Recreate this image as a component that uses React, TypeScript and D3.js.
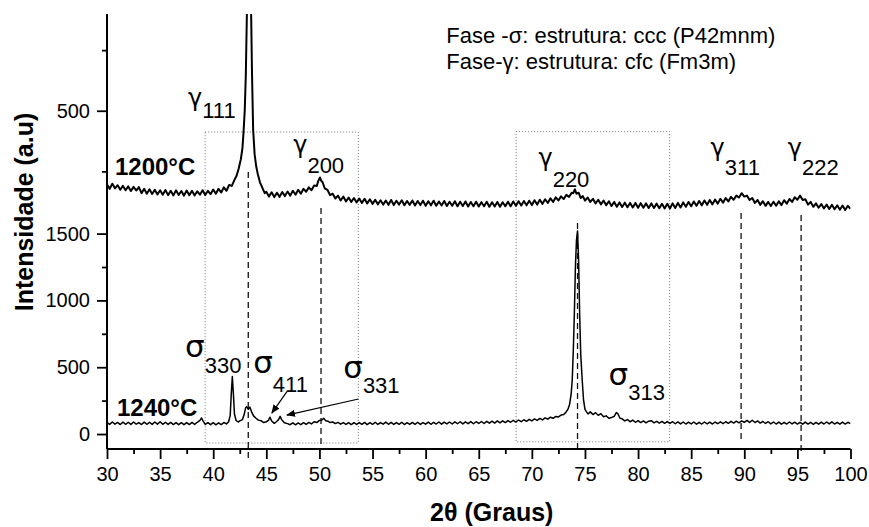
import React, { useEffect, useRef } from 'react';
import * as d3 from 'd3';

// 2θ ticks
const xMajor = [30, 35, 40, 45, 50, 55, 60, 65, 70, 75, 80, 85, 90, 95, 100];
const xMinor = [32.5, 37.5, 42.5, 47.5, 52.5, 57.5, 62.5, 67.5, 72.5, 77.5, 82.5, 87.5, 92.5, 97.5];
const lowMajor = [0, 500, 1000, 1500];
const lowMinor = [250, 750, 1250];
const upMajor = [500];
const upMinor = [250, 750];

// 1200°C pattern (upper panel units) [2θ, I]
const curve1200 = [
  [30.0, 196], [30.25, 178], [30.5, 199], [30.75, 180], [31.0, 193], [31.25, 174], [31.5, 190], [31.75, 172],
  [32.0, 188], [32.25, 169], [32.5, 186], [32.75, 171], [33.0, 185], [33.25, 160], [33.5, 178], [33.75, 158],
  [34.0, 176], [34.25, 157], [34.5, 174], [34.75, 155], [35.0, 172], [35.25, 154], [35.5, 173], [35.75, 152],
  [36.0, 170], [36.25, 151], [36.5, 172], [36.75, 153], [37.0, 169], [37.25, 150], [37.5, 171], [37.75, 152],
  [38.0, 170], [38.25, 151], [38.5, 168], [38.75, 154], [39.0, 172], [39.25, 153], [39.5, 170], [39.75, 156],
  [40.0, 175], [40.25, 158], [40.5, 178], [40.75, 163], [41.0, 184], [41.25, 170], [41.5, 194], [41.75, 190],
  [42.0, 215], [42.2, 232], [42.4, 262], [42.6, 300], [42.75, 345], [42.85, 408], [42.97, 503], [43.07, 650],
  [43.17, 900], [43.3, 1500], [43.4, 1650], [43.5, 1250], [43.57, 900], [43.65, 660], [43.76, 420], [43.9, 320],
  [44.05, 270], [44.2, 238], [44.4, 205], [44.6, 185], [44.85, 160], [45.0, 166], [45.25, 146], [45.5, 164],
  [45.75, 144], [46.0, 162], [46.25, 145], [46.5, 165], [46.75, 148], [47.0, 167], [47.25, 150], [47.5, 170],
  [47.75, 154], [48.0, 174], [48.25, 158], [48.5, 178], [48.75, 166], [49.0, 184], [49.25, 172], [49.5, 192],
  [49.75, 190], [49.9, 212], [50.05, 225], [50.15, 212], [50.3, 205], [50.5, 180], [50.75, 174], [51.0, 152],
  [51.25, 158], [51.5, 138], [51.75, 150], [52.0, 130], [52.25, 146], [52.5, 126], [52.75, 142], [53.0, 124],
  [53.25, 140], [53.5, 122], [53.75, 138], [54.0, 120], [54.25, 137], [54.5, 118], [54.75, 135], [55.0, 116],
  [55.25, 133], [55.5, 114], [55.75, 131], [56.0, 113], [56.25, 130], [56.5, 112], [56.75, 132], [57.0, 111],
  [57.25, 129], [57.5, 113], [57.75, 131], [58.0, 110], [58.25, 128], [58.5, 112], [58.75, 130], [59.0, 109],
  [59.25, 128], [59.5, 111], [59.75, 129], [60.0, 108], [60.25, 127], [60.5, 110], [60.75, 129], [61.0, 108],
  [61.25, 126], [61.5, 109], [61.75, 128], [62.0, 107], [62.25, 125], [62.5, 108], [62.75, 127], [63.0, 106],
  [63.25, 125], [63.5, 107], [63.75, 126], [64.0, 105], [64.25, 124], [64.5, 106], [64.75, 125], [65.0, 105],
  [65.25, 123], [65.5, 106], [65.75, 125], [66.0, 104], [66.25, 123], [66.5, 105], [66.75, 124], [67.0, 104],
  [67.25, 123], [67.5, 106], [67.75, 125], [68.0, 106], [68.25, 126], [68.5, 108], [68.75, 127], [69.0, 109],
  [69.25, 128], [69.5, 110], [69.75, 129], [70.0, 111], [70.25, 131], [70.5, 113], [70.75, 133], [71.0, 116],
  [71.25, 135], [71.5, 120], [71.75, 139], [72.0, 124], [72.25, 143], [72.5, 130], [72.75, 147], [73.0, 136],
  [73.25, 153], [73.5, 145], [73.75, 162], [73.9, 160], [74.05, 176], [74.2, 158], [74.4, 162], [74.6, 140],
  [74.8, 148], [75.0, 130], [75.25, 142], [75.5, 124], [75.75, 137], [76.0, 118], [76.25, 133], [76.5, 114],
  [76.75, 130], [77.0, 110], [77.25, 127], [77.5, 107], [77.75, 124], [78.0, 104], [78.25, 122], [78.5, 103],
  [78.75, 121], [79.0, 102], [79.25, 120], [79.5, 101], [79.75, 120], [80.0, 100], [80.25, 119], [80.5, 100],
  [80.75, 118], [81.0, 99], [81.25, 118], [81.5, 99], [81.75, 117], [82.0, 98], [82.25, 116], [82.5, 97],
  [82.75, 116], [83.0, 97], [83.25, 118], [83.5, 99], [83.75, 120], [84.0, 101], [84.25, 122], [84.5, 104],
  [84.75, 124], [85.0, 106], [85.25, 126], [85.5, 108], [85.75, 128], [86.0, 110], [86.25, 130], [86.5, 112],
  [86.75, 132], [87.0, 114], [87.25, 134], [87.5, 117], [87.75, 137], [88.0, 121], [88.25, 140], [88.5, 126],
  [88.75, 145], [89.0, 133], [89.25, 150], [89.5, 142], [89.75, 160], [90.0, 146], [90.25, 150], [90.5, 132],
  [90.75, 140], [91.0, 120], [91.25, 132], [91.5, 112], [91.75, 127], [92.0, 108], [92.25, 124], [92.5, 107],
  [92.75, 125], [93.0, 108], [93.25, 127], [93.5, 111], [93.75, 131], [94.0, 117], [94.25, 136], [94.5, 124],
  [94.75, 143], [95.0, 133], [95.25, 150], [95.5, 132], [95.75, 135], [96.0, 113], [96.25, 124], [96.5, 104],
  [96.75, 118], [97.0, 100], [97.25, 115], [97.5, 97], [97.75, 113], [98.0, 95], [98.25, 112], [98.5, 94],
  [98.75, 110], [99.0, 92], [99.25, 109], [99.5, 91], [99.75, 108], [100.0, 96],
];

// 1240°C pattern (lower panel units) [2θ, I]
const curve1240 = [
  [30.0, 88], [30.25, 72], [30.5, 90], [30.75, 74], [31.0, 87], [31.25, 71], [31.5, 89], [31.75, 73],
  [32.0, 88], [32.25, 72], [32.5, 90], [32.75, 74], [33.0, 86], [33.25, 71], [33.5, 89], [33.75, 73],
  [34.0, 88], [34.25, 72], [34.5, 90], [34.75, 74], [35.0, 92], [35.25, 73], [35.5, 88], [35.75, 72],
  [36.0, 87], [36.25, 71], [36.5, 86], [36.75, 70], [37.0, 85], [37.25, 70], [37.5, 86], [37.75, 71],
  [38.0, 87], [38.25, 72], [38.5, 88], [38.75, 102], [38.9, 120], [39.05, 96], [39.25, 72], [39.5, 86],
  [39.75, 70], [40.0, 85], [40.25, 69], [40.5, 84], [40.75, 71], [41.0, 86], [41.25, 76], [41.45, 92],
  [41.6, 140], [41.7, 300], [41.8, 430], [41.9, 300], [42.0, 150], [42.15, 102], [42.35, 90], [42.55, 100],
  [42.75, 108], [42.9, 142], [43.05, 196], [43.15, 206], [43.3, 184], [43.45, 202], [43.6, 168], [43.8, 136],
  [44.0, 120], [44.25, 104], [44.5, 100], [44.75, 86], [45.0, 92], [45.2, 102], [45.35, 126], [45.5, 98],
  [45.75, 80], [45.95, 92], [46.15, 108], [46.3, 132], [46.45, 106], [46.7, 84], [47.0, 78], [47.25, 70],
  [47.5, 84], [47.75, 69], [48.0, 83], [48.25, 70], [48.5, 85], [48.75, 72], [49.0, 87], [49.25, 76],
  [49.5, 92], [49.75, 86], [50.0, 102], [50.25, 106], [50.4, 118], [50.6, 100], [50.8, 96], [51.0, 86],
  [51.25, 90], [51.5, 78], [51.75, 87], [52.0, 74], [52.25, 86], [52.5, 72], [52.75, 85], [53.0, 71],
  [53.25, 85], [53.5, 72], [53.75, 86], [54.0, 73], [54.25, 87], [54.5, 71], [54.75, 85], [55.0, 73],
  [55.25, 88], [55.5, 72], [55.75, 86], [56.0, 74], [56.25, 89], [56.5, 73], [56.75, 87], [57.0, 72],
  [57.25, 86], [57.5, 73], [57.75, 88], [58.0, 71], [58.25, 85], [58.5, 72], [58.75, 87], [59.0, 73],
  [59.25, 88], [59.5, 72], [59.75, 86], [60.0, 74], [60.25, 89], [60.5, 73], [60.75, 88], [61.0, 75],
  [61.25, 90], [61.5, 74], [61.75, 89], [62.0, 76], [62.25, 90], [62.5, 75], [62.75, 91], [63.0, 77],
  [63.25, 92], [63.5, 76], [63.75, 91], [64.0, 78], [64.25, 93], [64.5, 77], [64.75, 92], [65.0, 79],
  [65.25, 94], [65.5, 79], [65.75, 95], [66.0, 81], [66.25, 96], [66.5, 82], [66.75, 98], [67.0, 84],
  [67.25, 99], [67.5, 86], [67.75, 101], [68.0, 88], [68.25, 103], [68.5, 90], [68.75, 105], [69.0, 92],
  [69.25, 107], [69.5, 95], [69.75, 110], [70.0, 98], [70.25, 113], [70.5, 102], [70.75, 117], [71.0, 106],
  [71.25, 121], [71.5, 111], [71.75, 126], [72.0, 118], [72.25, 132], [72.5, 128], [72.75, 142], [73.0, 146],
  [73.2, 162], [73.4, 186], [73.55, 222], [73.7, 300], [73.8, 404], [73.9, 620], [74.0, 900], [74.1, 1250],
  [74.2, 1450], [74.3, 1520], [74.4, 1300], [74.5, 900], [74.6, 600], [74.74, 404], [74.86, 260], [75.0, 185],
  [75.15, 166], [75.3, 150], [75.5, 166], [75.75, 146], [76.0, 160], [76.25, 140], [76.5, 152], [76.75, 130],
  [77.0, 136], [77.25, 118], [77.5, 124], [77.75, 132], [77.95, 160], [78.1, 152], [78.3, 118], [78.5, 114],
  [78.75, 98], [79.0, 108], [79.25, 92], [79.5, 104], [79.75, 88], [80.0, 100], [80.25, 86], [80.5, 98],
  [80.75, 84], [81.0, 96], [81.25, 100], [81.5, 84], [81.75, 95], [82.0, 82], [82.25, 94], [82.5, 80],
  [82.75, 93], [83.0, 79], [83.25, 92], [83.5, 77], [83.75, 91], [84.0, 76], [84.25, 90], [84.5, 75],
  [84.75, 89], [85.0, 76], [85.25, 90], [85.5, 74], [85.75, 88], [86.0, 75], [86.25, 90], [86.5, 76],
  [86.75, 89], [87.0, 75], [87.25, 90], [87.5, 77], [87.75, 91], [88.0, 78], [88.25, 92], [88.5, 80],
  [88.75, 94], [89.0, 82], [89.25, 96], [89.5, 84], [89.75, 98], [90.0, 88], [90.25, 102], [90.5, 87],
  [90.75, 103], [91.0, 86], [91.25, 98], [91.5, 82], [91.75, 94], [92.0, 79], [92.25, 92], [92.5, 76],
  [92.75, 90], [93.0, 75], [93.25, 89], [93.5, 74], [93.75, 88], [94.0, 75], [94.25, 90], [94.5, 76],
  [94.75, 89], [95.0, 75], [95.25, 88], [95.5, 74], [95.75, 89], [96.0, 75], [96.25, 88], [96.5, 73],
  [96.75, 87], [97.0, 74], [97.25, 89], [97.5, 75], [97.75, 90], [98.0, 76], [98.25, 91], [98.5, 75],
  [98.75, 88], [99.0, 74], [99.25, 89], [99.5, 75], [99.75, 88], [100.0, 78],
];

// dashed reference lines: 2θ, top end (upper units), bottom end (lower units)
const refLines = [
  { x: 43.3, top: 247, bottom: -187 },
  { x: 50.15, top: 99, bottom: -97 },
  { x: 74.3, top: 37, bottom: -118 },
  { x: 89.7, top: 78, bottom: -67 },
  { x: 95.35, top: 70, bottom: -135 },
];

// dotted boxes
const boxes = [
  { x0: 39.24, x1: 53.66, top: 412, bottom: -67 },
  { x0: 68.52, x1: 82.97, top: 414, bottom: -58 },
];

// gamma labels (upper panel): x = start, g = greek baseline, s = index baseline
const gammaLabels = [
  { hkl: '111', x: 37.63, g: 521, s: 470 },
  { hkl: '200', x: 47.53, g: 327, s: 243 },
  { hkl: '220', x: 70.62, g: 274, s: 186 },
  { hkl: '311', x: 86.83, g: 315, s: 235 },
  { hkl: '222', x: 94.09, g: 313, s: 235 },
];

// sigma labels (lower panel)
const sigmaLabels = [
  { hkl: '330', x: 37.35, g: 576, s: 457 },
  { hkl: '411', x: 43.76, g: 457, s: 314 },
  { hkl: '331', x: 52.24, g: 419, s: 307 },
  { hkl: '313', x: 77.22, g: 367, s: 254 },
];

const arrows = [
  { from: [46.94, 317], to: [45.52, 157] },
  { from: [53.68, 262], to: [46.94, 142] },
];

const legendLines = [
  { text: 'Fase -σ: estrutura: ccc (P42mnm)', y: 779 },
  { text: 'Fase-γ: estrutura: cfc (Fm3m)', y: 672 },
];

const tempLabels = [
  { text: '1200°C', x: 30.75, y: 235, panel: 'up' },
  { text: '1240°C', x: 30.94, y: 135, panel: 'low' },
];

const W = 869;
const H = 527;
const sans = "'Liberation Sans', Arial, sans-serif";
const greek = "'DejaVu Sans', sans-serif";

const XrdChart = () => {
  const svgRef = useRef(null);

  useEffect(() => {
    const svg = d3.select(svgRef.current);
    svg.selectAll('*').remove();

    const left = 107;
    const right = 850.5;
    const top = 14;
    const split = 232;
    const bottom = 449;

    const x = d3.scaleLinear().domain([30, 100]).range([left, right]);
    const yLow = d3.scaleLinear().domain([-112, 1512]).range([bottom, split]);
    const yUp = d3.scaleLinear().domain([0, 899]).range([split, top]);

    svg.append('defs').append('clipPath').attr('id', 'plotclip')
      .append('rect').attr('x', left).attr('y', top).attr('width', right - left).attr('height', bottom - top);
    svg.select('defs').append('marker')
      .attr('id', 'arrowhead').attr('viewBox', '0 0 10 10').attr('refX', 9).attr('refY', 5)
      .attr('markerWidth', 9).attr('markerHeight', 9).attr('orient', 'auto-start-reverse')
      .attr('markerUnits', 'userSpaceOnUse')
      .append('path').attr('d', 'M0,1 L10,5 L0,9 z').attr('fill', '#000');

    // dotted boxes
    svg.selectAll('.box').data(boxes).enter().append('rect')
      .attr('x', d => x(d.x0)).attr('width', d => x(d.x1) - x(d.x0))
      .attr('y', d => yUp(d.top)).attr('height', d => yLow(d.bottom) - yUp(d.top))
      .attr('fill', 'none').attr('stroke', '#777').attr('stroke-width', 1)
      .attr('stroke-dasharray', '1,2');

    // dashed lines
    svg.selectAll('.ref').data(refLines).enter().append('line')
      .attr('x1', d => x(d.x)).attr('x2', d => x(d.x))
      .attr('y1', d => yUp(d.top)).attr('y2', d => yLow(d.bottom))
      .attr('stroke', '#111').attr('stroke-width', 1.3).attr('stroke-dasharray', '6,4');

    // curves
    const lineUp = d3.line().x(d => x(d[0])).y(d => yUp(d[1]));
    const lineLow = d3.line().x(d => x(d[0])).y(d => yLow(d[1]));
    const g = svg.append('g').attr('clip-path', 'url(#plotclip)');
    g.append('path').attr('d', lineUp(curve1200)).attr('fill', 'none')
      .attr('stroke', '#000').attr('stroke-width', 2).attr('stroke-linejoin', 'round');
    g.append('path').attr('d', lineLow(curve1240)).attr('fill', 'none')
      .attr('stroke', '#000').attr('stroke-width', 1.5).attr('stroke-linejoin', 'round');

    // axes
    const axisFont = (sel) => sel.selectAll('text')
      .attr('font-family', sans).attr('font-size', 20).attr('fill', '#000');

    const xAx = svg.append('g').attr('transform', `translate(0,${bottom})`)
      .call(d3.axisBottom(x).tickValues(xMajor).tickSize(10).tickPadding(8).tickFormat(d3.format('d')));
    xAx.call(axisFont);
    svg.append('g').attr('transform', `translate(0,${bottom})`)
      .call(d3.axisBottom(x).tickValues(xMinor).tickSize(5).tickFormat(() => ''));

    const yAxLow = svg.append('g').attr('transform', `translate(${left},0)`)
      .call(d3.axisLeft(yLow).tickValues(lowMajor).tickSize(10).tickPadding(7).tickFormat(d3.format('d')));
    yAxLow.call(axisFont);
    svg.append('g').attr('transform', `translate(${left},0)`)
      .call(d3.axisLeft(yLow).tickValues(lowMinor).tickSize(5).tickFormat(() => ''));
    const yAxUp = svg.append('g').attr('transform', `translate(${left},0)`)
      .call(d3.axisLeft(yUp).tickValues(upMajor).tickSize(10).tickPadding(7).tickFormat(d3.format('d')));
    yAxUp.call(axisFont);
    svg.append('g').attr('transform', `translate(${left},0)`)
      .call(d3.axisLeft(yUp).tickValues(upMinor).tickSize(5).tickFormat(() => ''));

    svg.selectAll('.domain').remove();
    svg.selectAll('.tick line').attr('stroke', '#000').attr('stroke-width', 1.8);
    svg.append('line').attr('x1', left).attr('x2', right).attr('y1', bottom).attr('y2', bottom)
      .attr('stroke', '#000').attr('stroke-width', 2);
    svg.append('line').attr('x1', left).attr('x2', left).attr('y1', top).attr('y2', bottom)
      .attr('stroke', '#000').attr('stroke-width', 2);

    // axis titles
    svg.append('text').attr('x', (left + right) / 2 + 13).attr('y', 521)
      .attr('text-anchor', 'middle').attr('font-family', sans).attr('font-weight', 'bold')
      .attr('font-size', 25).text('2θ (Graus)');
    svg.append('text').attr('transform', 'translate(33,212) rotate(-90)')
      .attr('text-anchor', 'middle').attr('font-family', sans).attr('font-weight', 'bold')
      .attr('font-size', 25).text('Intensidade (a.u)');

    // temperature labels
    svg.selectAll('.temp').data(tempLabels).enter().append('text')
      .attr('x', d => x(d.x)).attr('y', d => (d.panel === 'up' ? yUp(d.y) : yLow(d.y)))
      .attr('font-family', sans).attr('font-weight', 'bold').attr('font-size', 24)
      .text(d => d.text);

    // legend
    svg.selectAll('.legend').data(legendLines).enter().append('text')
      .attr('x', x(61.95)).attr('y', d => yUp(d.y))
      .attr('font-family', sans).attr('font-size', 22).text(d => d.text);

    // peak labels
    const drawLabel = (d, scale, letter, size) => {
      const t = svg.append('text').attr('x', x(d.x)).attr('y', scale(d.g));
      t.append('tspan').attr('font-family', greek).attr('font-size', size).text(letter);
      t.append('tspan').attr('font-family', sans).attr('font-size', 22)
        .attr('dy', scale(d.s) - scale(d.g)).text(d.hkl);
    };
    gammaLabels.forEach(d => drawLabel(d, yUp, 'γ', 24));
    sigmaLabels.forEach(d => drawLabel(d, yLow, 'σ', 31));

    // arrows
    svg.selectAll('.arrow').data(arrows).enter().append('line')
      .attr('x1', d => x(d.from[0])).attr('y1', d => yLow(d.from[1]))
      .attr('x2', d => x(d.to[0])).attr('y2', d => yLow(d.to[1]))
      .attr('stroke', '#000').attr('stroke-width', 1.2).attr('marker-end', 'url(#arrowhead)');
  }, []);

  return <svg ref={svgRef} width={W} height={H} style={{ position: 'absolute', left: 0, top: 0, background: '#fff' }}></svg>;
};

export default function App() {
  return <XrdChart />;
}
